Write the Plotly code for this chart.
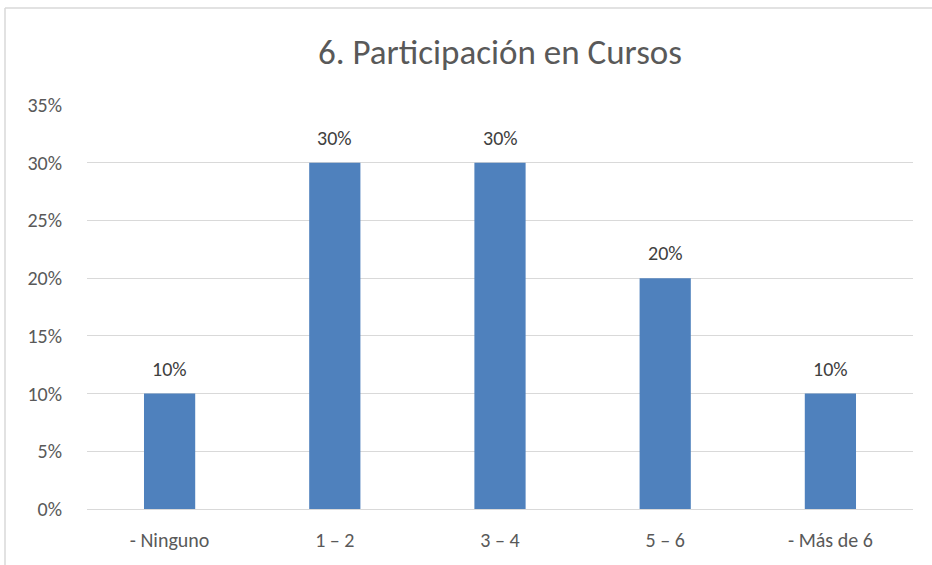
import plotly.graph_objects as go

categories = ["- Ninguno", "1 – 2", "3 – 4", "5 – 6", "- Más de 6"]
values = [0.10, 0.30, 0.30, 0.20, 0.10]
labels = ["10%", "30%", "30%", "20%", "10%"]
title = "6. Participación en Cursos"

FONT = "Carlito, Calibri, Lato, sans-serif"

fig = go.Figure()
fig.add_trace(go.Bar(
    x=categories, y=values,
    marker=dict(color="#4F81BD", line=dict(width=0)),
    hoverinfo="skip",
))

for c, v, t in zip(categories, values, labels):
    fig.add_annotation(x=c, y=v, text=t, showarrow=False, yanchor="middle",
                       yshift=25, font=dict(family=FONT, size=20, color="#404040"))

fig.update_layout(
    width=932, height=565,
    margin=dict(l=87, r=19, t=105, b=56),
    paper_bgcolor="white", plot_bgcolor="white",
    bargap=0.69,
    showlegend=False,
    title=dict(text=title, x=0.5, xref="paper", xanchor="center",
               y=1 - 52 / 565, yref="container", yanchor="middle",
               font=dict(family=FONT, size=35, color="#595959")),
    font=dict(family=FONT),
    xaxis=dict(showgrid=False, showline=False, zeroline=False, ticks="",
               tickfont=dict(family=FONT, size=20, color="#595959"),
               ticklabelstandoff=17),
    yaxis=dict(range=[0, 0.35], dtick=0.05, tick0=0, tickformat=".0%",
               showgrid=True, gridcolor="#D9D9D9", gridwidth=1,
               zeroline=True, zerolinecolor="#D9D9D9", zerolinewidth=1,
               showline=False, ticks="",
               tickfont=dict(family=FONT, size=20, color="#595959"),
               ticklabelstandoff=24),
    shapes=[
        dict(type="line", xref="paper", yref="paper",
             x0=(5 - 87) / 826, x1=(5 - 87) / 826,
             y0=-56 / 404.5, y1=(509.5 - 8) / 404.5,
             line=dict(color="#D9D9D9", width=1.5)),
        dict(type="line", xref="paper", yref="paper",
             x0=(5 - 87) / 826, x1=(940 - 87) / 826,
             y0=(509.5 - 8) / 404.5, y1=(509.5 - 8) / 404.5,
             line=dict(color="#D9D9D9", width=1.5)),
    ],
)

fig.write_html("out.html", config={"displayModeBar": False},
               post_script="document.body.style.margin='0';")
